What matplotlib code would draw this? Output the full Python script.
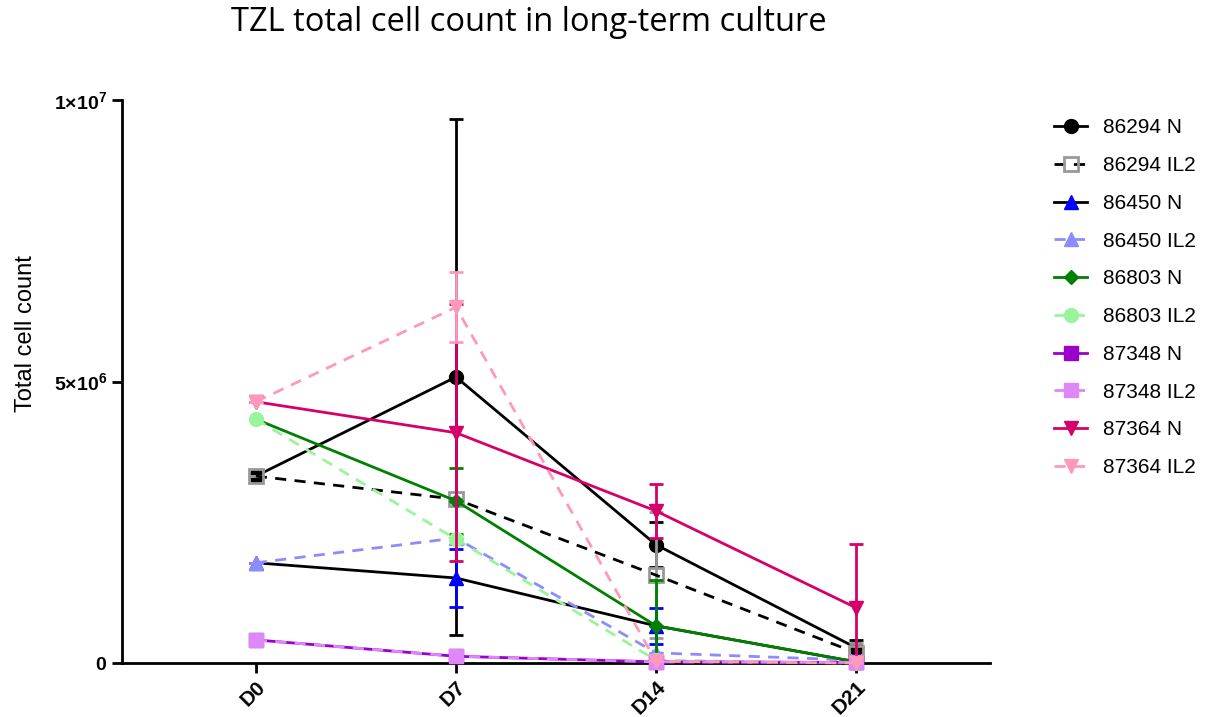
import matplotlib
matplotlib.use('Agg')
import matplotlib.pyplot as plt
import numpy as np

plt.rcParams['font.family'] = ['Liberation Sans', 'DejaVu Sans']
plt.rcParams['mathtext.fontset'] = 'custom'
plt.rcParams['mathtext.bf'] = 'Liberation Sans:bold'
plt.rcParams['mathtext.rm'] = 'Liberation Sans'

days = ['D0', 'D7', 'D14', 'D21']
labels = ['86294 N', '86294 IL2', '86450 N', '86450 IL2', '86803 N',
          '86803 IL2', '87348 N', '87348 IL2', '87364 N', '87364 IL2']

# mean total cell count per time point
means = [
    [3.32e6, 5.08e6, 2.10e6, 0.27e6],
    [3.32e6, 2.91e6, 1.56e6, 0.18e6],
    [1.78e6, 1.51e6, 0.66e6, 0.02e6],
    [1.78e6, 2.22e6, 0.18e6, 0.05e6],
    [4.33e6, 2.88e6, 0.66e6, 0.02e6],
    [4.33e6, 2.20e6, 0.05e6, 0.00e6],
    [0.41e6, 0.12e6, 0.02e6, 0.01e6],
    [0.41e6, 0.12e6, 0.02e6, 0.01e6],
    [4.64e6, 4.09e6, 2.70e6, 0.98e6],
    [4.64e6, 6.32e6, 0.03e6, 0.00e6],
]
# standard deviation
sds = [
    [0, 4.58e6, 0.40e6, 0.14e6],
    [0, 0, 1.12e6, 0.17e6],
    [0, 0.51e6, 0.32e6, 0],
    [0, 0, 0, 0],
    [0, 0.58e6, 0.82e6, 0],
    [0, 0, 0, 0],
    [0, 0, 0, 0],
    [0, 0, 0, 0],
    [0, 2.28e6, 0.48e6, 1.13e6],
    [0, 0.62e6, 0, 0],
]

# line colour, marker colour, marker, linestyle, filled
styles = [
    ('black',   'black',   'o', '-',  True),
    ('black',   '#999999', 's', '--', False),
    ('black',   '#0000ff', '^', '-',  True),
    ('#8c8cff', '#8c8cff', '^', '--', True),
    ('#008000', '#008000', 'D', '-',  True),
    ('#99f599', '#99f599', 'o', '--', True),
    ('#9900cc', '#9900cc', 's', '-',  True),
    ('#dd88f5', '#dd88f5', 's', '--', True),
    ('#d6006b', '#d6006b', 'v', '-',  True),
    ('#ff99bb', '#ff99bb', 'v', '--', True),
]

fig = plt.figure(figsize=(12.18, 7.17), dpi=100)
ax = fig.add_axes([0.1, 0.0753, 0.713, 0.7852])
x = np.arange(len(days))

handles = []
for i, (lab, m, sd, st) in enumerate(zip(labels, means, sds, styles)):
    lc, mc, mk, ls, filled = st
    ms = 7 if mk == 'D' else 10
    ax.errorbar(x, m, yerr=sd, fmt='none', ecolor=mc, elinewidth=2,
                capsize=5, capthick=2, zorder=2 + i)
    h, = ax.plot(x, m, color=lc, linestyle=ls, linewidth=2,
                 dashes=(4, 3) if ls == '--' else (None, None),
                 marker=mk, markersize=ms,
                 markerfacecolor=mc if filled else 'none',
                 markeredgecolor=mc, markeredgewidth=2 if not filled else 1,
                 label=lab, clip_on=False, zorder=3 + i)
    handles.append(h)

ax.set_xlim(-0.67, 3.67)
ax.set_ylim(0, 1e7)
ax.set_xticks(x)
ax.set_xticklabels(days, rotation=45, ha='right', rotation_mode='anchor',
                   fontsize=15, fontweight='bold')
ax.set_yticks([0, 5e6, 1e7])
ax.set_yticklabels([r'$\mathbf{0}$', r'$\mathbf{5{\times}10^{6}}$',
                    r'$\mathbf{1{\times}10^{7}}$'], fontsize=14)
ax.tick_params(width=2, length=7, direction='out')
for s in ['top', 'right']:
    ax.spines[s].set_visible(False)
for s in ['left', 'bottom']:
    ax.spines[s].set_linewidth(2)

fig.text(0.021, 0.535, 'Total cell count', rotation=90, ha='center',
         va='center', fontsize=17)
fig.text(0.434, 0.968, 'TZL total cell count in long-term culture',
         ha='center', va='center', fontsize=23.5, family='Open Sans')

fig.legend(handles=handles, loc='upper left', bbox_to_anchor=(0.850, 0.861),
           frameon=False, fontsize=15, labelspacing=0.9, handlelength=1.6,
           handletextpad=0.75)

fig.savefig('out.png', dpi=100)
